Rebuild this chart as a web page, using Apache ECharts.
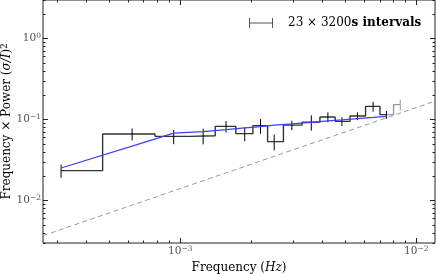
<!DOCTYPE html>
<html><head><meta charset="utf-8">
<script src="https://cdn.jsdelivr.net/npm/echarts@6/dist/echarts.min.js"></script>
<style>html,body{margin:0;padding:0;background:#fff}#c{width:436px;height:274px}</style>
</head><body><div id="c"></div>
<script>
// ---- data ----
const freq = [3.125e-4, 6.25e-4, 9.375e-4, 1.25e-3, 1.5625e-3, 1.875e-3, 2.1875e-3, 2.5e-3, 2.97e-3, 3.59e-3, 4.22e-3, 4.84e-3, 5.63e-3, 6.56e-3, 7.47e-3];
const power = [0.0235, 0.0666, 0.0622, 0.0634, 0.0827, 0.0672, 0.0843, 0.0535, 0.0855, 0.0931, 0.1080, 0.0953, 0.1111, 0.1459, 0.1153];
const powerErr = [0.0043, 0.0112, 0.0124, 0.0138, 0.0134, 0.0132, 0.0174, 0.0118, 0.0115, 0.0200, 0.0150, 0.0120, 0.0123, 0.0202, 0.0130];
const extraFreq = [8.55e-3];
const extraPower = [0.1531];
const extraErr = [0.0236];
const model = [0.0253, 0.0471, 0.0681, 0.0711, 0.0752, 0.0790, 0.0820, 0.0855, 0.0885, 0.0924, 0.0964, 0.0994, 0.1029, 0.1065, 0.1098];
const noiseCoef = 14.1;           // dashed line: power = noiseCoef * f
const xRange = [2.62e-4, 1.2e-2];
const yRange = [3e-3, 3];
const xMajorTicks = [1e-3, 1e-2];
const xMinorTicks = [3e-4, 4e-4, 5e-4, 6e-4, 7e-4, 8e-4, 9e-4, 2e-3, 3e-3, 4e-3, 5e-3, 6e-3, 7e-3, 8e-3, 9e-3];
const yMajorTicks = [1e-2, 1e-1, 1];
const yMinorTicks = [3e-3, 4e-3, 5e-3, 6e-3, 7e-3, 8e-3, 9e-3, 2e-2, 3e-2, 4e-2, 5e-2, 6e-2, 7e-2, 8e-2, 9e-2, 0.2, 0.3, 0.4, 0.5, 0.6, 0.7, 0.8, 0.9, 2, 3];
const legendLabel = ['23 × 3200', 's intervals'];

// ---- helpers ----
function stepsMid(fs, vs) {
  const pts = [[fs[0], vs[0]]];
  for (let i = 1; i < fs.length; i++) {
    const e = (fs[i - 1] + fs[i]) / 2;
    pts.push([e, vs[i - 1]], [e, vs[i]]);
  }
  pts.push([fs[fs.length - 1], vs[vs.length - 1]]);
  return pts;
}
function errData(fs, vs, es) { return fs.map((f, i) => [f, vs[i] - es[i], vs[i] + es[i]]); }
function errRender(color) {
  return function (params, api) {
    const a = api.coord([api.value(0), api.value(1)]);
    const b = api.coord([api.value(0), api.value(2)]);
    return { type: 'line', shape: { x1: a[0], y1: a[1], x2: b[0], y2: b[1] }, style: { stroke: color, lineWidth: 1 } };
  };
}
const FONT = 'DejaVu Serif';
const tickRich = {
  b: { fontFamily: FONT, fontSize: 10.5, color: '#555' },
  s: { fontFamily: FONT, fontSize: 7.5, color: '#555', padding: [0, 0, 5, 0] }
};
function powLabel(v) {
  const e = Math.round(Math.log10(v));
  return '{b|10}{s|' + (e < 0 ? '−' + (-e) : e) + '}';
}
const nameRich = {
  r: { fontFamily: FONT, fontSize: 12, color: '#000' },
  i: { fontFamily: FONT, fontSize: 12, color: '#000', fontStyle: 'italic' },
  s: { fontFamily: FONT, fontSize: 8.5, color: '#000', padding: [0, 0, 5, 0] }
};
function tickAxis(extra) {
  return Object.assign({
    type: 'log', logBase: 10, gridIndex: 0,
    axisLine: { show: false }, splitLine: { show: false },
    axisLabel: { show: false }
  }, extra);
}
const xMin = xRange[0], xMax = xRange[1];
const xAxes = [
  tickAxis({ position: 'bottom', min: xMin, max: xMax,
    axisTick: { inside: true, length: 5, customValues: xMajorTicks, lineStyle: { color: '#222' } },
    axisLabel: { show: true, customValues: xMajorTicks, formatter: powLabel, rich: tickRich, margin: 2 },
    name: '{r|Frequency (}{i|Hz}{r|)}', nameLocation: 'middle', nameGap: 16, nameTextStyle: { rich: nameRich } }),
  tickAxis({ position: 'bottom', min: xMin, max: xMax, axisTick: { inside: true, length: 2.5, customValues: xMinorTicks, lineStyle: { color: '#222' } } }),
  tickAxis({ position: 'top', min: xMin, max: xMax, axisTick: { inside: true, length: 5, customValues: xMajorTicks, lineStyle: { color: '#222' } } }),
  tickAxis({ position: 'top', min: xMin, max: xMax, axisTick: { inside: true, length: 2.5, customValues: xMinorTicks, lineStyle: { color: '#222' } } })
];
const yAxes = [
  tickAxis({ position: 'left', min: yRange[0], max: yRange[1],
    axisTick: { inside: true, length: 5, customValues: yMajorTicks, lineStyle: { color: '#222' } },
    axisLabel: { show: true, customValues: yMajorTicks, formatter: powLabel, rich: tickRich, margin: 2 },
    name: '{r|Frequency × Power (}{i|σ/I}{r|)}{s|2}', nameLocation: 'middle', nameRotate: 90, nameGap: 29, nameMoveOverlap: false, nameTextStyle: { rich: nameRich } }),
  tickAxis({ position: 'left', min: yRange[0], max: yRange[1], axisTick: { inside: true, length: 2.5, customValues: yMinorTicks, lineStyle: { color: '#222' } } }),
  tickAxis({ position: 'right', min: yRange[0], max: yRange[1], axisTick: { inside: true, length: 5, customValues: yMajorTicks, lineStyle: { color: '#222' } } }),
  tickAxis({ position: 'right', min: yRange[0], max: yRange[1], axisTick: { inside: true, length: 2.5, customValues: yMinorTicks, lineStyle: { color: '#222' } } })
];

const last = freq.length - 1;
const chart = echarts.init(document.getElementById('c'), null, { renderer: 'canvas' });
chart.setOption({
  animation: false,
  grid: { left: 43, right: 1, top: 0, bottom: 31, show: true, borderColor: '#222', borderWidth: 1, containLabel: false, outerBoundsMode: 'none' },
  xAxis: xAxes,
  yAxis: yAxes,
  legend: {
    left: 249, top: 17, padding: 0, itemWidth: 24, itemHeight: 10,
    data: [{ name: 'errbars', icon: 'path://M0,0h1v10h-1z M0,4.5h24v1h-24z M23,0h1v10h-1z', itemStyle: { color: '#555', borderWidth: 0 } }],
    formatter: () => '{a|' + legendLabel[0] + '}{b|' + legendLabel[1] + '}',
    textStyle: { rich: {
      a: { fontFamily: FONT, fontSize: 12, color: '#000', padding: [0, 0, 0, 10] },
      b: { fontFamily: FONT, fontSize: 12, color: '#000', fontWeight: 'bold' }
    } }
  },
  series: [
    { type: 'line', name: 'noise', symbol: 'none', silent: true, z: 1,
      data: xRange.map(f => [f, noiseCoef * f]),
      lineStyle: { color: '#999', width: 1, type: [5, 3.3] } },
    { type: 'line', name: 'steps', symbol: 'none', z: 2,
      data: stepsMid(freq, power), lineStyle: { color: '#333', width: 1.4 } },
    { type: 'line', name: 'stepsGray', symbol: 'none', z: 2,
      data: stepsMid([freq[last]].concat(extraFreq), [power[last]].concat(extraPower)), lineStyle: { color: '#999', width: 1.4 } },
    { type: 'custom', name: 'errbars', z: 3, itemStyle: { color: '#555' },
      encode: { x: 0, y: [1, 2] }, data: errData(freq, power, powerErr), renderItem: errRender('#000') },
    { type: 'custom', name: 'errGray', z: 3,
      encode: { x: 0, y: [1, 2] }, data: errData(extraFreq, extraPower, extraErr), renderItem: errRender('#999') },
    { type: 'line', name: 'model', symbol: 'none', z: 4,
      data: freq.map((f, i) => [f, model[i]]), lineStyle: { color: '#3f3fff', width: 1.2 } }
  ]
});
</script>
</body></html>
